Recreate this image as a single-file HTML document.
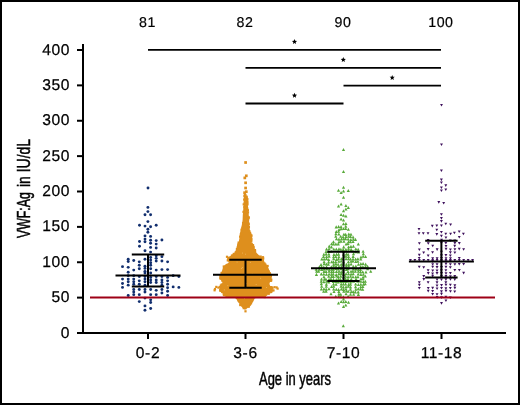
<!DOCTYPE html>
<html><head><meta charset="utf-8"><style>
html,body{margin:0;padding:0;background:#fff}
#c{position:relative;width:516px;height:401px;border:2px solid #000;overflow:hidden;background:#fff}
.t{position:absolute;font-family:"Liberation Sans",sans-serif;color:#000;white-space:nowrap;line-height:1;filter:grayscale(1)}
.n{font-size:15.6px;letter-spacing:0.6px;text-rendering:geometricPrecision;-webkit-text-stroke:0.25px #000}
.top{font-size:14.2px;letter-spacing:0.5px;text-rendering:geometricPrecision;-webkit-text-stroke:0.2px #000}
.ttl{font-size:18.5px;transform-origin:0 0;-webkit-text-stroke:0.5px #000}
svg{position:absolute;left:-2px;top:-2px}
</style></head><body><div id="c">
<svg width="520" height="405" viewBox="0 0 520 405">
<line x1="83" y1="44" x2="83" y2="334" stroke="#000" stroke-width="2"/>
<line x1="82" y1="333" x2="506" y2="333" stroke="#000" stroke-width="2"/>
<line x1="77" y1="333.00" x2="83" y2="333.00" stroke="#000" stroke-width="2"/>
<line x1="77" y1="297.62" x2="83" y2="297.62" stroke="#000" stroke-width="2"/>
<line x1="77" y1="262.25" x2="83" y2="262.25" stroke="#000" stroke-width="2"/>
<line x1="77" y1="226.88" x2="83" y2="226.88" stroke="#000" stroke-width="2"/>
<line x1="77" y1="191.50" x2="83" y2="191.50" stroke="#000" stroke-width="2"/>
<line x1="77" y1="156.12" x2="83" y2="156.12" stroke="#000" stroke-width="2"/>
<line x1="77" y1="120.75" x2="83" y2="120.75" stroke="#000" stroke-width="2"/>
<line x1="77" y1="85.38" x2="83" y2="85.38" stroke="#000" stroke-width="2"/>
<line x1="77" y1="50.00" x2="83" y2="50.00" stroke="#000" stroke-width="2"/>
<line x1="148" y1="333" x2="148" y2="339" stroke="#000" stroke-width="2"/>
<line x1="245.5" y1="333" x2="245.5" y2="339" stroke="#000" stroke-width="2"/>
<line x1="343.5" y1="333" x2="343.5" y2="339" stroke="#000" stroke-width="2"/>
<line x1="441.5" y1="333" x2="441.5" y2="339" stroke="#000" stroke-width="2"/>
<circle cx="148.00" cy="188.00" r="1.45" fill="#112e6e"/>
<circle cx="147.90" cy="207.40" r="1.45" fill="#112e6e"/>
<circle cx="147.90" cy="211.60" r="1.45" fill="#112e6e"/>
<circle cx="145.00" cy="214.80" r="1.45" fill="#112e6e"/>
<circle cx="150.60" cy="214.80" r="1.45" fill="#112e6e"/>
<circle cx="147.90" cy="221.60" r="1.45" fill="#112e6e"/>
<circle cx="139.50" cy="225.20" r="1.45" fill="#112e6e"/>
<circle cx="145.00" cy="226.10" r="1.45" fill="#112e6e"/>
<circle cx="150.60" cy="226.70" r="1.45" fill="#112e6e"/>
<circle cx="156.20" cy="225.20" r="1.45" fill="#112e6e"/>
<circle cx="147.90" cy="229.30" r="1.45" fill="#112e6e"/>
<circle cx="147.90" cy="232.30" r="1.45" fill="#112e6e"/>
<circle cx="145.00" cy="235.90" r="1.45" fill="#112e6e"/>
<circle cx="150.60" cy="236.40" r="1.45" fill="#112e6e"/>
<circle cx="145.00" cy="239.10" r="1.45" fill="#112e6e"/>
<circle cx="145.00" cy="241.80" r="1.45" fill="#112e6e"/>
<circle cx="139.50" cy="241.50" r="1.45" fill="#112e6e"/>
<circle cx="150.60" cy="240.30" r="1.45" fill="#112e6e"/>
<circle cx="150.60" cy="243.30" r="1.45" fill="#112e6e"/>
<circle cx="156.20" cy="240.60" r="1.45" fill="#112e6e"/>
<circle cx="156.20" cy="244.10" r="1.45" fill="#112e6e"/>
<circle cx="161.90" cy="240.00" r="1.45" fill="#112e6e"/>
<circle cx="139.50" cy="246.20" r="1.45" fill="#112e6e"/>
<circle cx="150.60" cy="247.40" r="1.45" fill="#112e6e"/>
<circle cx="156.20" cy="248.00" r="1.45" fill="#112e6e"/>
<circle cx="145.00" cy="250.70" r="1.45" fill="#112e6e"/>
<circle cx="150.60" cy="252.10" r="1.45" fill="#112e6e"/>
<circle cx="122.51" cy="266.67" r="1.45" fill="#112e6e"/>
<circle cx="122.51" cy="279.11" r="1.45" fill="#112e6e"/>
<circle cx="122.51" cy="283.43" r="1.45" fill="#112e6e"/>
<circle cx="122.51" cy="287.41" r="1.45" fill="#112e6e"/>
<circle cx="128.21" cy="259.23" r="1.45" fill="#112e6e"/>
<circle cx="128.21" cy="261.48" r="1.45" fill="#112e6e"/>
<circle cx="128.21" cy="267.36" r="1.45" fill="#112e6e"/>
<circle cx="128.21" cy="272.20" r="1.45" fill="#112e6e"/>
<circle cx="128.21" cy="275.65" r="1.45" fill="#112e6e"/>
<circle cx="128.21" cy="279.11" r="1.45" fill="#112e6e"/>
<circle cx="128.21" cy="281.70" r="1.45" fill="#112e6e"/>
<circle cx="128.21" cy="285.16" r="1.45" fill="#112e6e"/>
<circle cx="128.21" cy="295.53" r="1.45" fill="#112e6e"/>
<circle cx="133.74" cy="260.44" r="1.45" fill="#112e6e"/>
<circle cx="133.74" cy="270.12" r="1.45" fill="#112e6e"/>
<circle cx="133.74" cy="275.65" r="1.45" fill="#112e6e"/>
<circle cx="133.74" cy="279.11" r="1.45" fill="#112e6e"/>
<circle cx="133.74" cy="281.70" r="1.45" fill="#112e6e"/>
<circle cx="133.74" cy="284.29" r="1.45" fill="#112e6e"/>
<circle cx="133.74" cy="289.48" r="1.45" fill="#112e6e"/>
<circle cx="133.74" cy="292.07" r="1.45" fill="#112e6e"/>
<circle cx="133.74" cy="294.66" r="1.45" fill="#112e6e"/>
<circle cx="139.27" cy="261.83" r="1.45" fill="#112e6e"/>
<circle cx="139.27" cy="265.28" r="1.45" fill="#112e6e"/>
<circle cx="139.27" cy="268.74" r="1.45" fill="#112e6e"/>
<circle cx="139.27" cy="276.52" r="1.45" fill="#112e6e"/>
<circle cx="139.27" cy="280.84" r="1.45" fill="#112e6e"/>
<circle cx="139.27" cy="284.29" r="1.45" fill="#112e6e"/>
<circle cx="139.27" cy="289.48" r="1.45" fill="#112e6e"/>
<circle cx="139.27" cy="294.66" r="1.45" fill="#112e6e"/>
<circle cx="139.27" cy="301.58" r="1.45" fill="#112e6e"/>
<circle cx="144.97" cy="259.23" r="1.45" fill="#112e6e"/>
<circle cx="144.97" cy="266.15" r="1.45" fill="#112e6e"/>
<circle cx="144.97" cy="268.39" r="1.45" fill="#112e6e"/>
<circle cx="144.97" cy="271.33" r="1.45" fill="#112e6e"/>
<circle cx="144.97" cy="273.06" r="1.45" fill="#112e6e"/>
<circle cx="144.97" cy="276.52" r="1.45" fill="#112e6e"/>
<circle cx="144.97" cy="279.11" r="1.45" fill="#112e6e"/>
<circle cx="144.97" cy="281.70" r="1.45" fill="#112e6e"/>
<circle cx="144.97" cy="285.16" r="1.45" fill="#112e6e"/>
<circle cx="144.97" cy="289.48" r="1.45" fill="#112e6e"/>
<circle cx="144.97" cy="292.07" r="1.45" fill="#112e6e"/>
<circle cx="144.97" cy="298.12" r="1.45" fill="#112e6e"/>
<circle cx="144.97" cy="305.90" r="1.45" fill="#112e6e"/>
<circle cx="144.97" cy="310.22" r="1.45" fill="#112e6e"/>
<circle cx="150.68" cy="257.51" r="1.45" fill="#112e6e"/>
<circle cx="150.68" cy="260.10" r="1.45" fill="#112e6e"/>
<circle cx="150.68" cy="262.69" r="1.45" fill="#112e6e"/>
<circle cx="150.68" cy="265.28" r="1.45" fill="#112e6e"/>
<circle cx="150.68" cy="268.74" r="1.45" fill="#112e6e"/>
<circle cx="150.68" cy="273.06" r="1.45" fill="#112e6e"/>
<circle cx="150.68" cy="277.38" r="1.45" fill="#112e6e"/>
<circle cx="150.68" cy="279.97" r="1.45" fill="#112e6e"/>
<circle cx="150.68" cy="282.57" r="1.45" fill="#112e6e"/>
<circle cx="150.68" cy="289.48" r="1.45" fill="#112e6e"/>
<circle cx="150.68" cy="294.66" r="1.45" fill="#112e6e"/>
<circle cx="150.68" cy="299.85" r="1.45" fill="#112e6e"/>
<circle cx="150.68" cy="302.44" r="1.45" fill="#112e6e"/>
<circle cx="150.68" cy="308.49" r="1.45" fill="#112e6e"/>
<circle cx="156.21" cy="255.78" r="1.45" fill="#112e6e"/>
<circle cx="156.21" cy="258.37" r="1.45" fill="#112e6e"/>
<circle cx="156.21" cy="260.96" r="1.45" fill="#112e6e"/>
<circle cx="156.21" cy="270.12" r="1.45" fill="#112e6e"/>
<circle cx="156.21" cy="276.52" r="1.45" fill="#112e6e"/>
<circle cx="156.21" cy="279.97" r="1.45" fill="#112e6e"/>
<circle cx="156.21" cy="282.57" r="1.45" fill="#112e6e"/>
<circle cx="156.21" cy="290.34" r="1.45" fill="#112e6e"/>
<circle cx="156.21" cy="294.66" r="1.45" fill="#112e6e"/>
<circle cx="161.91" cy="256.64" r="1.45" fill="#112e6e"/>
<circle cx="161.91" cy="260.96" r="1.45" fill="#112e6e"/>
<circle cx="161.91" cy="269.60" r="1.45" fill="#112e6e"/>
<circle cx="161.91" cy="276.52" r="1.45" fill="#112e6e"/>
<circle cx="161.91" cy="279.97" r="1.45" fill="#112e6e"/>
<circle cx="161.91" cy="282.57" r="1.45" fill="#112e6e"/>
<circle cx="161.91" cy="285.16" r="1.45" fill="#112e6e"/>
<circle cx="161.91" cy="289.48" r="1.45" fill="#112e6e"/>
<circle cx="161.91" cy="292.94" r="1.45" fill="#112e6e"/>
<circle cx="167.61" cy="261.83" r="1.45" fill="#112e6e"/>
<circle cx="167.61" cy="269.60" r="1.45" fill="#112e6e"/>
<circle cx="167.61" cy="277.38" r="1.45" fill="#112e6e"/>
<circle cx="167.61" cy="280.84" r="1.45" fill="#112e6e"/>
<circle cx="167.61" cy="284.29" r="1.45" fill="#112e6e"/>
<circle cx="167.61" cy="287.75" r="1.45" fill="#112e6e"/>
<circle cx="167.61" cy="291.21" r="1.45" fill="#112e6e"/>
<circle cx="167.61" cy="295.53" r="1.45" fill="#112e6e"/>
<circle cx="173.15" cy="275.65" r="1.45" fill="#112e6e"/>
<circle cx="173.15" cy="286.89" r="1.45" fill="#112e6e"/>
<circle cx="178.85" cy="276.52" r="1.45" fill="#112e6e"/>
<circle cx="178.85" cy="287.41" r="1.45" fill="#112e6e"/>
<polygon points="243.8,196.0 244.0,200.0 243.6,205.0 243.2,210.0 242.8,215.0 242.6,220.0 242.0,224.0 241.6,226.0 240.9,230.4 239.6,234.0 240.0,236.7 239.2,239.3 238.7,242.0 237.4,245.6 236.3,249.1 234.6,252.7 231.5,255.3 228.6,257.1 226.8,259.1 228.0,261.3 229.3,262.8 226.0,263.9 224.4,265.5 223.0,267.3 222.2,270.2 220.8,273.9 219.6,276.0 219.4,279.5 221.8,280.3 222.4,283.0 221.0,284.8 219.5,286.5 219.6,289.5 219.6,291.4 222.4,292.2 223.6,295.8 226.0,297.0 236.2,298.2 237.5,301.5 239.4,303.8 241.0,306.2 243.2,308.5 244.5,309.6 246.2,309.6 246.8,308.5 250.2,306.2 251.7,303.8 253.3,301.5 254.8,298.2 264.5,297.0 267.2,295.6 268.3,293.8 272.3,293.0 272.6,289.6 272.5,286.8 269.4,285.5 269.6,282.2 271.8,281.3 271.4,274.7 269.2,270.0 267.8,266.3 265.0,263.5 264.0,260.6 262.8,257.4 259.0,255.3 256.4,252.7 254.5,249.1 253.3,245.6 251.5,242.0 251.9,239.3 252.4,236.7 251.1,234.0 249.7,230.4 249.0,226.0 249.3,224.0 249.0,220.0 248.8,215.0 248.3,210.0 247.9,205.0 247.6,200.0 247.6,196.0" fill="#de8f1d"/>
<rect x="243.35" y="194.77" width="2.2" height="2.2" fill="#de8f1d"/>
<rect x="245.32" y="196.84" width="2.2" height="2.2" fill="#de8f1d"/>
<rect x="243.14" y="198.60" width="2.2" height="2.2" fill="#de8f1d"/>
<rect x="246.30" y="198.08" width="2.2" height="2.2" fill="#de8f1d"/>
<rect x="246.11" y="200.07" width="2.2" height="2.2" fill="#de8f1d"/>
<rect x="243.60" y="201.47" width="2.2" height="2.2" fill="#de8f1d"/>
<rect x="246.35" y="201.39" width="2.2" height="2.2" fill="#de8f1d"/>
<rect x="242.62" y="203.27" width="2.2" height="2.2" fill="#de8f1d"/>
<rect x="246.40" y="203.28" width="2.2" height="2.2" fill="#de8f1d"/>
<rect x="243.29" y="206.04" width="2.2" height="2.2" fill="#de8f1d"/>
<rect x="246.07" y="207.42" width="2.2" height="2.2" fill="#de8f1d"/>
<rect x="246.79" y="209.10" width="2.2" height="2.2" fill="#de8f1d"/>
<rect x="242.40" y="210.75" width="2.2" height="2.2" fill="#de8f1d"/>
<rect x="246.90" y="211.30" width="2.2" height="2.2" fill="#de8f1d"/>
<rect x="247.60" y="216.16" width="2.2" height="2.2" fill="#de8f1d"/>
<rect x="247.49" y="217.01" width="2.2" height="2.2" fill="#de8f1d"/>
<rect x="247.04" y="218.46" width="2.2" height="2.2" fill="#de8f1d"/>
<rect x="241.98" y="222.01" width="2.2" height="2.2" fill="#de8f1d"/>
<rect x="247.29" y="222.37" width="2.2" height="2.2" fill="#de8f1d"/>
<rect x="247.62" y="223.24" width="2.2" height="2.2" fill="#de8f1d"/>
<rect x="247.82" y="225.78" width="2.2" height="2.2" fill="#de8f1d"/>
<rect x="241.38" y="226.71" width="2.2" height="2.2" fill="#de8f1d"/>
<rect x="247.74" y="226.43" width="2.2" height="2.2" fill="#de8f1d"/>
<rect x="240.42" y="228.61" width="2.2" height="2.2" fill="#de8f1d"/>
<rect x="247.32" y="228.87" width="2.2" height="2.2" fill="#de8f1d"/>
<rect x="240.66" y="230.50" width="2.2" height="2.2" fill="#de8f1d"/>
<rect x="248.26" y="230.12" width="2.2" height="2.2" fill="#de8f1d"/>
<rect x="249.00" y="231.82" width="2.2" height="2.2" fill="#de8f1d"/>
<rect x="249.51" y="233.52" width="2.2" height="2.2" fill="#de8f1d"/>
<rect x="239.16" y="235.38" width="2.2" height="2.2" fill="#de8f1d"/>
<rect x="250.42" y="234.41" width="2.2" height="2.2" fill="#de8f1d"/>
<rect x="239.32" y="236.02" width="2.2" height="2.2" fill="#de8f1d"/>
<rect x="250.37" y="238.07" width="2.2" height="2.2" fill="#de8f1d"/>
<rect x="250.23" y="239.94" width="2.2" height="2.2" fill="#de8f1d"/>
<rect x="237.53" y="241.48" width="2.2" height="2.2" fill="#de8f1d"/>
<rect x="237.43" y="242.99" width="2.2" height="2.2" fill="#de8f1d"/>
<rect x="250.64" y="242.71" width="2.2" height="2.2" fill="#de8f1d"/>
<rect x="237.01" y="244.30" width="2.2" height="2.2" fill="#de8f1d"/>
<rect x="251.93" y="244.03" width="2.2" height="2.2" fill="#de8f1d"/>
<rect x="236.68" y="245.91" width="2.2" height="2.2" fill="#de8f1d"/>
<rect x="252.51" y="245.84" width="2.2" height="2.2" fill="#de8f1d"/>
<rect x="235.82" y="247.90" width="2.2" height="2.2" fill="#de8f1d"/>
<rect x="252.48" y="247.53" width="2.2" height="2.2" fill="#de8f1d"/>
<rect x="253.91" y="248.97" width="2.2" height="2.2" fill="#de8f1d"/>
<rect x="234.61" y="251.28" width="2.2" height="2.2" fill="#de8f1d"/>
<rect x="254.00" y="250.52" width="2.2" height="2.2" fill="#de8f1d"/>
<rect x="232.66" y="252.81" width="2.2" height="2.2" fill="#de8f1d"/>
<rect x="230.85" y="254.41" width="2.2" height="2.2" fill="#de8f1d"/>
<rect x="259.57" y="255.49" width="2.2" height="2.2" fill="#de8f1d"/>
<rect x="261.29" y="257.22" width="2.2" height="2.2" fill="#de8f1d"/>
<rect x="226.68" y="259.32" width="2.2" height="2.2" fill="#de8f1d"/>
<rect x="261.48" y="259.34" width="2.2" height="2.2" fill="#de8f1d"/>
<rect x="228.14" y="262.53" width="2.2" height="2.2" fill="#de8f1d"/>
<rect x="263.49" y="262.44" width="2.2" height="2.2" fill="#de8f1d"/>
<rect x="264.35" y="263.54" width="2.2" height="2.2" fill="#de8f1d"/>
<rect x="222.68" y="265.39" width="2.2" height="2.2" fill="#de8f1d"/>
<rect x="266.51" y="264.85" width="2.2" height="2.2" fill="#de8f1d"/>
<rect x="267.48" y="270.35" width="2.2" height="2.2" fill="#de8f1d"/>
<rect x="220.48" y="271.86" width="2.2" height="2.2" fill="#de8f1d"/>
<rect x="268.71" y="272.14" width="2.2" height="2.2" fill="#de8f1d"/>
<rect x="269.26" y="273.66" width="2.2" height="2.2" fill="#de8f1d"/>
<rect x="219.44" y="274.75" width="2.2" height="2.2" fill="#de8f1d"/>
<rect x="269.82" y="275.22" width="2.2" height="2.2" fill="#de8f1d"/>
<rect x="219.36" y="276.92" width="2.2" height="2.2" fill="#de8f1d"/>
<rect x="270.13" y="278.46" width="2.2" height="2.2" fill="#de8f1d"/>
<rect x="221.14" y="279.47" width="2.2" height="2.2" fill="#de8f1d"/>
<rect x="269.98" y="279.67" width="2.2" height="2.2" fill="#de8f1d"/>
<rect x="267.35" y="280.93" width="2.2" height="2.2" fill="#de8f1d"/>
<rect x="220.60" y="283.37" width="2.2" height="2.2" fill="#de8f1d"/>
<rect x="219.80" y="284.32" width="2.2" height="2.2" fill="#de8f1d"/>
<rect x="267.76" y="284.65" width="2.2" height="2.2" fill="#de8f1d"/>
<rect x="218.86" y="285.79" width="2.2" height="2.2" fill="#de8f1d"/>
<rect x="270.36" y="286.16" width="2.2" height="2.2" fill="#de8f1d"/>
<rect x="270.37" y="287.38" width="2.2" height="2.2" fill="#de8f1d"/>
<rect x="219.23" y="289.58" width="2.2" height="2.2" fill="#de8f1d"/>
<rect x="271.19" y="289.42" width="2.2" height="2.2" fill="#de8f1d"/>
<rect x="221.05" y="290.90" width="2.2" height="2.2" fill="#de8f1d"/>
<rect x="222.60" y="292.46" width="2.2" height="2.2" fill="#de8f1d"/>
<rect x="267.64" y="292.70" width="2.2" height="2.2" fill="#de8f1d"/>
<rect x="222.81" y="294.03" width="2.2" height="2.2" fill="#de8f1d"/>
<rect x="263.66" y="295.99" width="2.2" height="2.2" fill="#de8f1d"/>
<rect x="235.74" y="296.92" width="2.2" height="2.2" fill="#de8f1d"/>
<rect x="249.94" y="302.19" width="2.2" height="2.2" fill="#de8f1d"/>
<rect x="239.14" y="303.97" width="2.2" height="2.2" fill="#de8f1d"/>
<rect x="248.89" y="303.30" width="2.2" height="2.2" fill="#de8f1d"/>
<rect x="247.63" y="305.64" width="2.2" height="2.2" fill="#de8f1d"/>
<rect x="242.63" y="307.07" width="2.2" height="2.2" fill="#de8f1d"/>
<rect x="244.25" y="161.15" width="2.7" height="2.7" fill="#de8f1d"/>
<rect x="244.95" y="174.45" width="2.7" height="2.7" fill="#de8f1d"/>
<rect x="243.45" y="176.55" width="2.7" height="2.7" fill="#de8f1d"/>
<rect x="244.25" y="181.45" width="2.7" height="2.7" fill="#de8f1d"/>
<rect x="244.25" y="186.65" width="2.7" height="2.7" fill="#de8f1d"/>
<rect x="244.95" y="190.35" width="2.7" height="2.7" fill="#de8f1d"/>
<rect x="243.25" y="191.35" width="2.7" height="2.7" fill="#de8f1d"/>
<rect x="243.85" y="193.85" width="2.7" height="2.7" fill="#de8f1d"/>
<rect x="244.85" y="195.45" width="2.7" height="2.7" fill="#de8f1d"/>
<rect x="243.65" y="197.55" width="2.7" height="2.7" fill="#de8f1d"/>
<rect x="246.74" y="297.22" width="0.8" height="0.8" fill="#f0c070"/>
<rect x="223.90" y="289.54" width="0.8" height="0.8" fill="#f0c070"/>
<rect x="246.19" y="287.97" width="0.8" height="0.8" fill="#f0c070"/>
<rect x="227.44" y="285.36" width="0.8" height="0.8" fill="#f0c070"/>
<rect x="266.05" y="287.05" width="0.8" height="0.8" fill="#f0c070"/>
<rect x="242.15" y="252.66" width="0.8" height="0.8" fill="#f0c070"/>
<rect x="260.28" y="277.80" width="0.8" height="0.8" fill="#f0c070"/>
<rect x="236.66" y="261.71" width="0.8" height="0.8" fill="#f0c070"/>
<rect x="249.88" y="262.10" width="0.8" height="0.8" fill="#f0c070"/>
<rect x="240.64" y="287.28" width="0.8" height="0.8" fill="#f0c070"/>
<rect x="241.12" y="267.97" width="0.8" height="0.8" fill="#f0c070"/>
<rect x="241.98" y="267.11" width="0.8" height="0.8" fill="#f0c070"/>
<rect x="244.97" y="253.76" width="0.8" height="0.8" fill="#f0c070"/>
<rect x="244.02" y="298.25" width="0.8" height="0.8" fill="#f0c070"/>
<rect x="229.68" y="286.97" width="0.8" height="0.8" fill="#f0c070"/>
<rect x="255.75" y="284.14" width="0.8" height="0.8" fill="#f0c070"/>
<rect x="246.00" y="283.29" width="0.8" height="0.8" fill="#f0c070"/>
<rect x="251.86" y="273.79" width="0.8" height="0.8" fill="#f0c070"/>
<rect x="213.90" y="287.90" width="2.2" height="2.2" fill="#de8f1d"/>
<rect x="215.20" y="285.80" width="2.2" height="2.2" fill="#de8f1d"/>
<rect x="217.30" y="286.50" width="2.2" height="2.2" fill="#de8f1d"/>
<rect x="219.10" y="288.50" width="2.2" height="2.2" fill="#de8f1d"/>
<rect x="220.50" y="289.20" width="2.2" height="2.2" fill="#de8f1d"/>
<rect x="213.50" y="289.20" width="2.2" height="2.2" fill="#de8f1d"/>
<rect x="269.40" y="286.40" width="2.2" height="2.2" fill="#de8f1d"/>
<rect x="271.40" y="286.70" width="2.2" height="2.2" fill="#de8f1d"/>
<rect x="273.50" y="286.10" width="2.2" height="2.2" fill="#de8f1d"/>
<rect x="275.50" y="286.30" width="2.2" height="2.2" fill="#de8f1d"/>
<rect x="276.50" y="287.50" width="2.2" height="2.2" fill="#de8f1d"/>
<rect x="272.40" y="289.30" width="2.2" height="2.2" fill="#de8f1d"/>
<rect x="269.90" y="290.40" width="2.2" height="2.2" fill="#de8f1d"/>
<rect x="225.90" y="255.70" width="2.2" height="2.2" fill="#de8f1d"/>
<rect x="227.40" y="256.70" width="2.2" height="2.2" fill="#de8f1d"/>
<rect x="261.90" y="256.10" width="2.2" height="2.2" fill="#de8f1d"/>
<rect x="262.10" y="257.40" width="2.2" height="2.2" fill="#de8f1d"/>
<rect x="244.40" y="310.20" width="2.2" height="2.2" fill="#de8f1d"/>
<path d="M343.50 148.08L345.10 151.12L341.90 151.12Z" fill="#58aa3a"/>
<path d="M343.50 169.88L345.10 172.92L341.90 172.92Z" fill="#58aa3a"/>
<path d="M343.50 185.68L345.10 188.72L341.90 188.72Z" fill="#58aa3a"/>
<path d="M338.50 188.68L340.10 191.72L336.90 191.72Z" fill="#58aa3a"/>
<path d="M343.50 189.58L345.10 192.62L341.90 192.62Z" fill="#58aa3a"/>
<path d="M341.10 190.98L342.70 194.02L339.50 194.02Z" fill="#58aa3a"/>
<path d="M348.30 189.08L349.90 192.12L346.70 192.12Z" fill="#58aa3a"/>
<path d="M343.50 195.78L345.10 198.82L341.90 198.82Z" fill="#58aa3a"/>
<path d="M338.50 204.58L340.10 207.62L336.90 207.62Z" fill="#58aa3a"/>
<path d="M341.10 202.58L342.70 205.62L339.50 205.62Z" fill="#58aa3a"/>
<path d="M345.90 204.08L347.50 207.12L344.30 207.12Z" fill="#58aa3a"/>
<path d="M348.30 205.98L349.90 209.02L346.70 209.02Z" fill="#58aa3a"/>
<path d="M343.50 209.28L345.10 212.32L341.90 212.32Z" fill="#58aa3a"/>
<path d="M345.90 207.48L347.50 210.52L344.30 210.52Z" fill="#58aa3a"/>
<path d="M341.10 212.98L342.70 216.02L339.50 216.02Z" fill="#58aa3a"/>
<path d="M343.50 213.68L345.10 216.72L341.90 216.72Z" fill="#58aa3a"/>
<path d="M345.90 214.48L347.50 217.52L344.30 217.52Z" fill="#58aa3a"/>
<path d="M341.10 217.38L342.70 220.42L339.50 220.42Z" fill="#58aa3a"/>
<path d="M343.50 218.48L345.10 221.52L341.90 221.52Z" fill="#58aa3a"/>
<path d="M343.50 222.28L345.10 225.32L341.90 225.32Z" fill="#58aa3a"/>
<path d="M345.90 221.88L347.50 224.92L344.30 224.92Z" fill="#58aa3a"/>
<path d="M343.30 324.18L344.90 327.22L341.70 327.22Z" fill="#58aa3a"/>
<path d="M338.50 301.48L340.10 304.52L336.90 304.52Z" fill="#58aa3a"/>
<path d="M341.20 299.88L342.80 302.92L339.60 302.92Z" fill="#58aa3a"/>
<path d="M343.50 300.28L345.10 303.32L341.90 303.32Z" fill="#58aa3a"/>
<path d="M345.80 299.88L347.40 302.92L344.20 302.92Z" fill="#58aa3a"/>
<path d="M348.50 300.78L350.10 303.82L346.90 303.82Z" fill="#58aa3a"/>
<path d="M343.50 297.58L345.10 300.62L341.90 300.62Z" fill="#58aa3a"/>
<path d="M343.50 304.88L345.10 307.92L341.90 307.92Z" fill="#58aa3a"/>
<path d="M345.80 303.58L347.40 306.62L344.20 306.62Z" fill="#58aa3a"/>
<path d="M336.20 225.36L337.80 228.40L334.60 228.40Z" fill="#58aa3a"/>
<path d="M338.61 225.06L340.21 228.10L337.01 228.10Z" fill="#58aa3a"/>
<path d="M341.06 225.10L342.66 228.14L339.46 228.14Z" fill="#58aa3a"/>
<path d="M345.77 224.61L347.37 227.65L344.17 227.65Z" fill="#58aa3a"/>
<path d="M339.03 227.90L340.63 230.94L337.43 230.94Z" fill="#58aa3a"/>
<path d="M341.15 227.17L342.75 230.21L339.55 230.21Z" fill="#58aa3a"/>
<path d="M343.53 227.08L345.13 230.12L341.93 230.12Z" fill="#58aa3a"/>
<path d="M345.72 227.06L347.32 230.10L344.12 230.10Z" fill="#58aa3a"/>
<path d="M348.35 227.79L349.95 230.83L346.75 230.83Z" fill="#58aa3a"/>
<path d="M336.28 229.98L337.88 233.02L334.68 233.02Z" fill="#58aa3a"/>
<path d="M338.56 229.78L340.16 232.82L336.96 232.82Z" fill="#58aa3a"/>
<path d="M335.91 232.29L337.51 235.33L334.31 235.33Z" fill="#58aa3a"/>
<path d="M338.84 232.39L340.44 235.43L337.24 235.43Z" fill="#58aa3a"/>
<path d="M343.91 232.79L345.51 235.83L342.31 235.83Z" fill="#58aa3a"/>
<path d="M345.69 232.85L347.29 235.89L344.09 235.89Z" fill="#58aa3a"/>
<path d="M348.83 232.39L350.43 235.43L347.23 235.43Z" fill="#58aa3a"/>
<path d="M350.97 232.73L352.57 235.77L349.37 235.77Z" fill="#58aa3a"/>
<path d="M335.78 234.83L337.38 237.87L334.18 237.87Z" fill="#58aa3a"/>
<path d="M340.71 234.75L342.31 237.79L339.11 237.79Z" fill="#58aa3a"/>
<path d="M343.10 235.25L344.70 238.29L341.50 238.29Z" fill="#58aa3a"/>
<path d="M346.00 234.93L347.60 237.97L344.40 237.97Z" fill="#58aa3a"/>
<path d="M348.61 234.65L350.21 237.69L347.01 237.69Z" fill="#58aa3a"/>
<path d="M350.50 234.91L352.10 237.95L348.90 237.95Z" fill="#58aa3a"/>
<path d="M353.09 235.40L354.69 238.44L351.49 238.44Z" fill="#58aa3a"/>
<path d="M336.50 237.22L338.10 240.26L334.90 240.26Z" fill="#58aa3a"/>
<path d="M338.92 237.61L340.52 240.65L337.32 240.65Z" fill="#58aa3a"/>
<path d="M341.49 237.22L343.09 240.26L339.89 240.26Z" fill="#58aa3a"/>
<path d="M343.75 237.33L345.35 240.37L342.15 240.37Z" fill="#58aa3a"/>
<path d="M345.57 237.11L347.17 240.15L343.97 240.15Z" fill="#58aa3a"/>
<path d="M348.17 237.57L349.77 240.61L346.57 240.61Z" fill="#58aa3a"/>
<path d="M350.81 237.89L352.41 240.93L349.21 240.93Z" fill="#58aa3a"/>
<path d="M353.37 237.81L354.97 240.85L351.77 240.85Z" fill="#58aa3a"/>
<path d="M355.44 237.85L357.04 240.89L353.84 240.89Z" fill="#58aa3a"/>
<path d="M333.42 240.20L335.02 243.24L331.82 243.24Z" fill="#58aa3a"/>
<path d="M339.01 240.32L340.61 243.36L337.41 243.36Z" fill="#58aa3a"/>
<path d="M340.98 239.62L342.58 242.66L339.38 242.66Z" fill="#58aa3a"/>
<path d="M343.92 239.74L345.52 242.78L342.32 242.78Z" fill="#58aa3a"/>
<path d="M348.69 240.07L350.29 243.11L347.09 243.11Z" fill="#58aa3a"/>
<path d="M350.56 240.18L352.16 243.22L348.96 243.22Z" fill="#58aa3a"/>
<path d="M353.06 240.03L354.66 243.07L351.46 243.07Z" fill="#58aa3a"/>
<path d="M331.63 242.21L333.23 245.25L330.03 245.25Z" fill="#58aa3a"/>
<path d="M333.49 242.43L335.09 245.47L331.89 245.47Z" fill="#58aa3a"/>
<path d="M335.86 242.36L337.46 245.40L334.26 245.40Z" fill="#58aa3a"/>
<path d="M338.27 242.36L339.87 245.40L336.67 245.40Z" fill="#58aa3a"/>
<path d="M346.12 242.56L347.72 245.60L344.52 245.60Z" fill="#58aa3a"/>
<path d="M347.98 242.05L349.58 245.09L346.38 245.09Z" fill="#58aa3a"/>
<path d="M358.32 242.46L359.92 245.50L356.72 245.50Z" fill="#58aa3a"/>
<path d="M329.25 244.60L330.85 247.64L327.65 247.64Z" fill="#58aa3a"/>
<path d="M331.46 245.34L333.06 248.38L329.86 248.38Z" fill="#58aa3a"/>
<path d="M343.67 245.34L345.27 248.38L342.07 248.38Z" fill="#58aa3a"/>
<path d="M348.66 245.31L350.26 248.35L347.06 248.35Z" fill="#58aa3a"/>
<path d="M350.96 244.87L352.56 247.91L349.36 247.91Z" fill="#58aa3a"/>
<path d="M353.40 244.60L355.00 247.64L351.80 247.64Z" fill="#58aa3a"/>
<path d="M326.56 247.55L328.16 250.59L324.96 250.59Z" fill="#58aa3a"/>
<path d="M329.10 247.11L330.70 250.15L327.50 250.15Z" fill="#58aa3a"/>
<path d="M333.79 247.46L335.39 250.50L332.19 250.50Z" fill="#58aa3a"/>
<path d="M336.33 247.48L337.93 250.52L334.73 250.52Z" fill="#58aa3a"/>
<path d="M338.98 247.26L340.58 250.30L337.38 250.30Z" fill="#58aa3a"/>
<path d="M340.87 247.64L342.47 250.68L339.27 250.68Z" fill="#58aa3a"/>
<path d="M343.20 247.85L344.80 250.89L341.60 250.89Z" fill="#58aa3a"/>
<path d="M345.90 247.83L347.50 250.87L344.30 250.87Z" fill="#58aa3a"/>
<path d="M348.55 247.21L350.15 250.25L346.95 250.25Z" fill="#58aa3a"/>
<path d="M351.13 247.85L352.73 250.89L349.53 250.89Z" fill="#58aa3a"/>
<path d="M355.82 247.31L357.42 250.35L354.22 250.35Z" fill="#58aa3a"/>
<path d="M358.20 247.78L359.80 250.82L356.60 250.82Z" fill="#58aa3a"/>
<path d="M326.05 249.94L327.65 252.98L324.45 252.98Z" fill="#58aa3a"/>
<path d="M328.54 249.90L330.14 252.94L326.94 252.94Z" fill="#58aa3a"/>
<path d="M331.24 249.81L332.84 252.85L329.64 252.85Z" fill="#58aa3a"/>
<path d="M338.22 249.56L339.82 252.60L336.62 252.60Z" fill="#58aa3a"/>
<path d="M343.69 250.04L345.29 253.08L342.09 253.08Z" fill="#58aa3a"/>
<path d="M346.21 249.55L347.81 252.59L344.61 252.59Z" fill="#58aa3a"/>
<path d="M348.36 249.55L349.96 252.59L346.76 252.59Z" fill="#58aa3a"/>
<path d="M352.98 249.57L354.58 252.61L351.38 252.61Z" fill="#58aa3a"/>
<path d="M355.70 250.10L357.30 253.14L354.10 253.14Z" fill="#58aa3a"/>
<path d="M358.48 250.39L360.08 253.43L356.88 253.43Z" fill="#58aa3a"/>
<path d="M363.08 249.69L364.68 252.73L361.48 252.73Z" fill="#58aa3a"/>
<path d="M323.87 252.67L325.47 255.71L322.27 255.71Z" fill="#58aa3a"/>
<path d="M326.15 252.34L327.75 255.38L324.55 255.38Z" fill="#58aa3a"/>
<path d="M328.82 252.58L330.42 255.62L327.22 255.62Z" fill="#58aa3a"/>
<path d="M333.96 252.85L335.56 255.89L332.36 255.89Z" fill="#58aa3a"/>
<path d="M336.54 252.68L338.14 255.72L334.94 255.72Z" fill="#58aa3a"/>
<path d="M338.56 252.59L340.16 255.63L336.96 255.63Z" fill="#58aa3a"/>
<path d="M343.56 252.82L345.16 255.86L341.96 255.86Z" fill="#58aa3a"/>
<path d="M346.35 252.45L347.95 255.49L344.75 255.49Z" fill="#58aa3a"/>
<path d="M348.13 252.68L349.73 255.72L346.53 255.72Z" fill="#58aa3a"/>
<path d="M353.50 252.22L355.10 255.26L351.90 255.26Z" fill="#58aa3a"/>
<path d="M363.36 252.32L364.96 255.36L361.76 255.36Z" fill="#58aa3a"/>
<path d="M323.52 254.93L325.12 257.97L321.92 257.97Z" fill="#58aa3a"/>
<path d="M326.59 254.97L328.19 258.01L324.99 258.01Z" fill="#58aa3a"/>
<path d="M329.08 254.59L330.68 257.63L327.48 257.63Z" fill="#58aa3a"/>
<path d="M333.55 255.24L335.15 258.28L331.95 258.28Z" fill="#58aa3a"/>
<path d="M335.83 254.99L337.43 258.03L334.23 258.03Z" fill="#58aa3a"/>
<path d="M338.91 255.15L340.51 258.19L337.31 258.19Z" fill="#58aa3a"/>
<path d="M343.90 254.61L345.50 257.65L342.30 257.65Z" fill="#58aa3a"/>
<path d="M345.97 254.79L347.57 257.83L344.37 257.83Z" fill="#58aa3a"/>
<path d="M348.52 255.00L350.12 258.04L346.92 258.04Z" fill="#58aa3a"/>
<path d="M353.13 254.87L354.73 257.91L351.53 257.91Z" fill="#58aa3a"/>
<path d="M360.97 255.40L362.57 258.44L359.37 258.44Z" fill="#58aa3a"/>
<path d="M363.17 254.71L364.77 257.75L361.57 257.75Z" fill="#58aa3a"/>
<path d="M365.55 255.07L367.15 258.11L363.95 258.11Z" fill="#58aa3a"/>
<path d="M321.87 257.49L323.47 260.53L320.27 260.53Z" fill="#58aa3a"/>
<path d="M324.17 257.54L325.77 260.58L322.57 260.58Z" fill="#58aa3a"/>
<path d="M326.52 257.09L328.12 260.13L324.92 260.13Z" fill="#58aa3a"/>
<path d="M328.72 257.89L330.32 260.93L327.12 260.93Z" fill="#58aa3a"/>
<path d="M333.68 257.14L335.28 260.18L332.08 260.18Z" fill="#58aa3a"/>
<path d="M336.43 257.84L338.03 260.88L334.83 260.88Z" fill="#58aa3a"/>
<path d="M338.44 257.20L340.04 260.24L336.84 260.24Z" fill="#58aa3a"/>
<path d="M341.43 257.15L343.03 260.19L339.83 260.19Z" fill="#58aa3a"/>
<path d="M343.07 257.20L344.67 260.24L341.47 260.24Z" fill="#58aa3a"/>
<path d="M346.12 257.32L347.72 260.36L344.52 260.36Z" fill="#58aa3a"/>
<path d="M348.51 257.12L350.11 260.16L346.91 260.16Z" fill="#58aa3a"/>
<path d="M350.51 257.49L352.11 260.53L348.91 260.53Z" fill="#58aa3a"/>
<path d="M353.03 257.51L354.63 260.55L351.43 260.55Z" fill="#58aa3a"/>
<path d="M355.64 257.40L357.24 260.44L354.04 260.44Z" fill="#58aa3a"/>
<path d="M357.89 257.21L359.49 260.25L356.29 260.25Z" fill="#58aa3a"/>
<path d="M360.77 257.51L362.37 260.55L359.17 260.55Z" fill="#58aa3a"/>
<path d="M324.12 260.26L325.72 263.30L322.52 263.30Z" fill="#58aa3a"/>
<path d="M328.63 260.36L330.23 263.40L327.03 263.40Z" fill="#58aa3a"/>
<path d="M331.70 260.33L333.30 263.37L330.10 263.37Z" fill="#58aa3a"/>
<path d="M333.47 260.18L335.07 263.22L331.87 263.22Z" fill="#58aa3a"/>
<path d="M335.79 260.28L337.39 263.32L334.19 263.32Z" fill="#58aa3a"/>
<path d="M338.86 259.64L340.46 262.68L337.26 262.68Z" fill="#58aa3a"/>
<path d="M341.22 259.55L342.82 262.59L339.62 262.59Z" fill="#58aa3a"/>
<path d="M343.66 260.35L345.26 263.39L342.06 263.39Z" fill="#58aa3a"/>
<path d="M348.41 260.21L350.01 263.25L346.81 263.25Z" fill="#58aa3a"/>
<path d="M351.02 259.70L352.62 262.74L349.42 262.74Z" fill="#58aa3a"/>
<path d="M352.95 259.56L354.55 262.60L351.35 262.60Z" fill="#58aa3a"/>
<path d="M355.76 260.04L357.36 263.08L354.16 263.08Z" fill="#58aa3a"/>
<path d="M357.92 259.71L359.52 262.75L356.32 262.75Z" fill="#58aa3a"/>
<path d="M321.06 262.89L322.66 265.93L319.46 265.93Z" fill="#58aa3a"/>
<path d="M324.14 262.32L325.74 265.36L322.54 265.36Z" fill="#58aa3a"/>
<path d="M326.36 262.42L327.96 265.46L324.76 265.46Z" fill="#58aa3a"/>
<path d="M328.36 262.66L329.96 265.70L326.76 265.70Z" fill="#58aa3a"/>
<path d="M333.66 262.70L335.26 265.74L332.06 265.74Z" fill="#58aa3a"/>
<path d="M335.88 262.18L337.48 265.22L334.28 265.22Z" fill="#58aa3a"/>
<path d="M338.16 262.83L339.76 265.87L336.56 265.87Z" fill="#58aa3a"/>
<path d="M341.23 262.80L342.83 265.84L339.63 265.84Z" fill="#58aa3a"/>
<path d="M343.41 262.57L345.01 265.61L341.81 265.61Z" fill="#58aa3a"/>
<path d="M346.38 262.75L347.98 265.79L344.78 265.79Z" fill="#58aa3a"/>
<path d="M348.77 262.70L350.37 265.74L347.17 265.74Z" fill="#58aa3a"/>
<path d="M351.13 262.40L352.73 265.44L349.53 265.44Z" fill="#58aa3a"/>
<path d="M358.44 262.72L360.04 265.76L356.84 265.76Z" fill="#58aa3a"/>
<path d="M360.85 262.09L362.45 265.13L359.25 265.13Z" fill="#58aa3a"/>
<path d="M363.07 262.04L364.67 265.08L361.47 265.08Z" fill="#58aa3a"/>
<path d="M365.67 262.59L367.27 265.63L364.07 265.63Z" fill="#58aa3a"/>
<path d="M319.40 265.13L321.00 268.17L317.80 268.17Z" fill="#58aa3a"/>
<path d="M321.59 265.04L323.19 268.08L319.99 268.08Z" fill="#58aa3a"/>
<path d="M323.80 265.43L325.40 268.47L322.20 268.47Z" fill="#58aa3a"/>
<path d="M326.53 265.22L328.13 268.26L324.93 268.26Z" fill="#58aa3a"/>
<path d="M331.35 265.19L332.95 268.23L329.75 268.23Z" fill="#58aa3a"/>
<path d="M333.61 264.58L335.21 267.62L332.01 267.62Z" fill="#58aa3a"/>
<path d="M336.04 264.62L337.64 267.66L334.44 267.66Z" fill="#58aa3a"/>
<path d="M338.97 265.03L340.57 268.07L337.37 268.07Z" fill="#58aa3a"/>
<path d="M341.47 265.04L343.07 268.08L339.87 268.08Z" fill="#58aa3a"/>
<path d="M346.23 264.60L347.83 267.64L344.63 267.64Z" fill="#58aa3a"/>
<path d="M348.63 264.57L350.23 267.61L347.03 267.61Z" fill="#58aa3a"/>
<path d="M353.27 264.68L354.87 267.72L351.67 267.72Z" fill="#58aa3a"/>
<path d="M355.85 264.58L357.45 267.62L354.25 267.62Z" fill="#58aa3a"/>
<path d="M360.67 265.07L362.27 268.11L359.07 268.11Z" fill="#58aa3a"/>
<path d="M362.91 265.12L364.51 268.16L361.31 268.16Z" fill="#58aa3a"/>
<path d="M365.36 265.17L366.96 268.21L363.76 268.21Z" fill="#58aa3a"/>
<path d="M367.56 264.75L369.16 267.79L365.96 267.79Z" fill="#58aa3a"/>
<path d="M316.24 267.71L317.84 270.75L314.64 270.75Z" fill="#58aa3a"/>
<path d="M319.36 267.70L320.96 270.74L317.76 270.74Z" fill="#58aa3a"/>
<path d="M321.89 267.88L323.49 270.92L320.29 270.92Z" fill="#58aa3a"/>
<path d="M324.26 267.42L325.86 270.46L322.66 270.46Z" fill="#58aa3a"/>
<path d="M326.78 267.25L328.38 270.29L325.18 270.29Z" fill="#58aa3a"/>
<path d="M329.19 267.68L330.79 270.72L327.59 270.72Z" fill="#58aa3a"/>
<path d="M331.68 267.77L333.28 270.81L330.08 270.81Z" fill="#58aa3a"/>
<path d="M333.35 267.59L334.95 270.63L331.75 270.63Z" fill="#58aa3a"/>
<path d="M335.88 267.08L337.48 270.12L334.28 270.12Z" fill="#58aa3a"/>
<path d="M338.26 267.43L339.86 270.47L336.66 270.47Z" fill="#58aa3a"/>
<path d="M341.01 267.27L342.61 270.31L339.41 270.31Z" fill="#58aa3a"/>
<path d="M343.43 267.73L345.03 270.77L341.83 270.77Z" fill="#58aa3a"/>
<path d="M346.40 267.89L348.00 270.93L344.80 270.93Z" fill="#58aa3a"/>
<path d="M348.16 267.13L349.76 270.17L346.56 270.17Z" fill="#58aa3a"/>
<path d="M353.41 267.35L355.01 270.39L351.81 270.39Z" fill="#58aa3a"/>
<path d="M355.92 267.54L357.52 270.58L354.32 270.58Z" fill="#58aa3a"/>
<path d="M358.32 267.71L359.92 270.75L356.72 270.75Z" fill="#58aa3a"/>
<path d="M360.42 267.91L362.02 270.95L358.82 270.95Z" fill="#58aa3a"/>
<path d="M367.60 267.27L369.20 270.31L366.00 270.31Z" fill="#58aa3a"/>
<path d="M316.66 269.62L318.26 272.66L315.06 272.66Z" fill="#58aa3a"/>
<path d="M318.62 269.61L320.22 272.65L317.02 272.65Z" fill="#58aa3a"/>
<path d="M324.02 269.87L325.62 272.91L322.42 272.91Z" fill="#58aa3a"/>
<path d="M326.09 269.84L327.69 272.88L324.49 272.88Z" fill="#58aa3a"/>
<path d="M329.10 269.60L330.70 272.64L327.50 272.64Z" fill="#58aa3a"/>
<path d="M331.53 270.09L333.13 273.13L329.93 273.13Z" fill="#58aa3a"/>
<path d="M333.44 269.91L335.04 272.95L331.84 272.95Z" fill="#58aa3a"/>
<path d="M336.43 269.86L338.03 272.90L334.83 272.90Z" fill="#58aa3a"/>
<path d="M339.04 269.82L340.64 272.86L337.44 272.86Z" fill="#58aa3a"/>
<path d="M341.27 270.36L342.87 273.40L339.67 273.40Z" fill="#58aa3a"/>
<path d="M343.38 269.62L344.98 272.66L341.78 272.66Z" fill="#58aa3a"/>
<path d="M348.02 270.04L349.62 273.08L346.42 273.08Z" fill="#58aa3a"/>
<path d="M351.02 269.80L352.62 272.84L349.42 272.84Z" fill="#58aa3a"/>
<path d="M352.92 269.72L354.52 272.76L351.32 272.76Z" fill="#58aa3a"/>
<path d="M355.37 269.80L356.97 272.84L353.77 272.84Z" fill="#58aa3a"/>
<path d="M358.37 269.78L359.97 272.82L356.77 272.82Z" fill="#58aa3a"/>
<path d="M360.52 270.18L362.12 273.22L358.92 273.22Z" fill="#58aa3a"/>
<path d="M362.76 270.17L364.36 273.21L361.16 273.21Z" fill="#58aa3a"/>
<path d="M365.93 270.38L367.53 273.42L364.33 273.42Z" fill="#58aa3a"/>
<path d="M370.72 269.80L372.32 272.84L369.12 272.84Z" fill="#58aa3a"/>
<path d="M316.46 272.87L318.06 275.91L314.86 275.91Z" fill="#58aa3a"/>
<path d="M321.33 272.36L322.93 275.40L319.73 275.40Z" fill="#58aa3a"/>
<path d="M323.81 272.38L325.41 275.42L322.21 275.42Z" fill="#58aa3a"/>
<path d="M326.41 272.75L328.01 275.79L324.81 275.79Z" fill="#58aa3a"/>
<path d="M329.10 272.54L330.70 275.58L327.50 275.58Z" fill="#58aa3a"/>
<path d="M331.48 272.82L333.08 275.86L329.88 275.86Z" fill="#58aa3a"/>
<path d="M333.27 272.49L334.87 275.53L331.67 275.53Z" fill="#58aa3a"/>
<path d="M336.21 272.90L337.81 275.94L334.61 275.94Z" fill="#58aa3a"/>
<path d="M338.87 272.09L340.47 275.13L337.27 275.13Z" fill="#58aa3a"/>
<path d="M341.31 272.11L342.91 275.15L339.71 275.15Z" fill="#58aa3a"/>
<path d="M343.71 272.84L345.31 275.88L342.11 275.88Z" fill="#58aa3a"/>
<path d="M346.07 272.16L347.67 275.20L344.47 275.20Z" fill="#58aa3a"/>
<path d="M348.53 272.25L350.13 275.29L346.93 275.29Z" fill="#58aa3a"/>
<path d="M351.09 272.50L352.69 275.54L349.49 275.54Z" fill="#58aa3a"/>
<path d="M353.20 272.33L354.80 275.37L351.60 275.37Z" fill="#58aa3a"/>
<path d="M358.19 272.51L359.79 275.55L356.59 275.55Z" fill="#58aa3a"/>
<path d="M360.84 272.85L362.44 275.89L359.24 275.89Z" fill="#58aa3a"/>
<path d="M363.39 272.63L364.99 275.67L361.79 275.67Z" fill="#58aa3a"/>
<path d="M323.92 275.17L325.52 278.21L322.32 278.21Z" fill="#58aa3a"/>
<path d="M328.73 274.66L330.33 277.70L327.13 277.70Z" fill="#58aa3a"/>
<path d="M331.69 274.87L333.29 277.91L330.09 277.91Z" fill="#58aa3a"/>
<path d="M333.43 274.91L335.03 277.95L331.83 277.95Z" fill="#58aa3a"/>
<path d="M336.57 274.58L338.17 277.62L334.97 277.62Z" fill="#58aa3a"/>
<path d="M338.25 275.11L339.85 278.15L336.65 278.15Z" fill="#58aa3a"/>
<path d="M340.76 274.59L342.36 277.63L339.16 277.63Z" fill="#58aa3a"/>
<path d="M343.58 275.35L345.18 278.39L341.98 278.39Z" fill="#58aa3a"/>
<path d="M345.60 274.70L347.20 277.74L344.00 277.74Z" fill="#58aa3a"/>
<path d="M348.16 275.18L349.76 278.22L346.56 278.22Z" fill="#58aa3a"/>
<path d="M350.60 274.70L352.20 277.74L349.00 277.74Z" fill="#58aa3a"/>
<path d="M353.01 275.21L354.61 278.25L351.41 278.25Z" fill="#58aa3a"/>
<path d="M355.79 275.27L357.39 278.31L354.19 278.31Z" fill="#58aa3a"/>
<path d="M357.98 275.33L359.58 278.37L356.38 278.37Z" fill="#58aa3a"/>
<path d="M363.14 275.39L364.74 278.43L361.54 278.43Z" fill="#58aa3a"/>
<path d="M365.30 274.57L366.90 277.61L363.70 277.61Z" fill="#58aa3a"/>
<path d="M321.47 277.49L323.07 280.53L319.87 280.53Z" fill="#58aa3a"/>
<path d="M324.34 277.62L325.94 280.66L322.74 280.66Z" fill="#58aa3a"/>
<path d="M325.91 277.46L327.51 280.50L324.31 280.50Z" fill="#58aa3a"/>
<path d="M329.07 277.67L330.67 280.71L327.47 280.71Z" fill="#58aa3a"/>
<path d="M330.94 277.17L332.54 280.21L329.34 280.21Z" fill="#58aa3a"/>
<path d="M333.48 277.81L335.08 280.85L331.88 280.85Z" fill="#58aa3a"/>
<path d="M336.27 277.92L337.87 280.96L334.67 280.96Z" fill="#58aa3a"/>
<path d="M338.63 277.17L340.23 280.21L337.03 280.21Z" fill="#58aa3a"/>
<path d="M340.60 277.77L342.20 280.81L339.00 280.81Z" fill="#58aa3a"/>
<path d="M345.57 277.27L347.17 280.31L343.97 280.31Z" fill="#58aa3a"/>
<path d="M348.04 277.46L349.64 280.50L346.44 280.50Z" fill="#58aa3a"/>
<path d="M351.26 277.56L352.86 280.60L349.66 280.60Z" fill="#58aa3a"/>
<path d="M356.01 277.41L357.61 280.45L354.41 280.45Z" fill="#58aa3a"/>
<path d="M360.94 277.22L362.54 280.26L359.34 280.26Z" fill="#58aa3a"/>
<path d="M363.12 277.17L364.72 280.21L361.52 280.21Z" fill="#58aa3a"/>
<path d="M321.28 279.60L322.88 282.64L319.68 282.64Z" fill="#58aa3a"/>
<path d="M323.87 280.17L325.47 283.21L322.27 283.21Z" fill="#58aa3a"/>
<path d="M326.52 279.63L328.12 282.67L324.92 282.67Z" fill="#58aa3a"/>
<path d="M328.77 280.40L330.37 283.44L327.17 283.44Z" fill="#58aa3a"/>
<path d="M333.26 279.87L334.86 282.91L331.66 282.91Z" fill="#58aa3a"/>
<path d="M335.91 280.04L337.51 283.08L334.31 283.08Z" fill="#58aa3a"/>
<path d="M338.16 280.42L339.76 283.46L336.56 283.46Z" fill="#58aa3a"/>
<path d="M340.79 280.08L342.39 283.12L339.19 283.12Z" fill="#58aa3a"/>
<path d="M343.39 280.02L344.99 283.06L341.79 283.06Z" fill="#58aa3a"/>
<path d="M345.80 279.88L347.40 282.92L344.20 282.92Z" fill="#58aa3a"/>
<path d="M348.18 279.71L349.78 282.75L346.58 282.75Z" fill="#58aa3a"/>
<path d="M350.70 280.38L352.30 283.42L349.10 283.42Z" fill="#58aa3a"/>
<path d="M353.50 279.83L355.10 282.87L351.90 282.87Z" fill="#58aa3a"/>
<path d="M357.88 279.61L359.48 282.65L356.28 282.65Z" fill="#58aa3a"/>
<path d="M360.84 279.69L362.44 282.73L359.24 282.73Z" fill="#58aa3a"/>
<path d="M363.40 280.06L365.00 283.10L361.80 283.10Z" fill="#58aa3a"/>
<path d="M365.30 279.67L366.90 282.71L363.70 282.71Z" fill="#58aa3a"/>
<path d="M321.37 282.10L322.97 285.14L319.77 285.14Z" fill="#58aa3a"/>
<path d="M326.36 282.61L327.96 285.65L324.76 285.65Z" fill="#58aa3a"/>
<path d="M333.55 282.40L335.15 285.44L331.95 285.44Z" fill="#58aa3a"/>
<path d="M336.06 282.66L337.66 285.70L334.46 285.70Z" fill="#58aa3a"/>
<path d="M341.19 282.58L342.79 285.62L339.59 285.62Z" fill="#58aa3a"/>
<path d="M343.35 282.34L344.95 285.38L341.75 285.38Z" fill="#58aa3a"/>
<path d="M345.60 282.37L347.20 285.41L344.00 285.41Z" fill="#58aa3a"/>
<path d="M348.66 282.77L350.26 285.81L347.06 285.81Z" fill="#58aa3a"/>
<path d="M350.54 282.72L352.14 285.76L348.94 285.76Z" fill="#58aa3a"/>
<path d="M355.62 282.48L357.22 285.52L354.02 285.52Z" fill="#58aa3a"/>
<path d="M358.39 282.92L359.99 285.96L356.79 285.96Z" fill="#58aa3a"/>
<path d="M360.84 282.78L362.44 285.82L359.24 285.82Z" fill="#58aa3a"/>
<path d="M363.50 282.59L365.10 285.63L361.90 285.63Z" fill="#58aa3a"/>
<path d="M365.17 282.25L366.77 285.29L363.57 285.29Z" fill="#58aa3a"/>
<path d="M321.63 284.83L323.23 287.87L320.03 287.87Z" fill="#58aa3a"/>
<path d="M326.32 284.64L327.92 287.68L324.72 287.68Z" fill="#58aa3a"/>
<path d="M331.61 285.02L333.21 288.06L330.01 288.06Z" fill="#58aa3a"/>
<path d="M333.75 284.77L335.35 287.81L332.15 287.81Z" fill="#58aa3a"/>
<path d="M341.14 284.64L342.74 287.68L339.54 287.68Z" fill="#58aa3a"/>
<path d="M343.31 285.34L344.91 288.38L341.71 288.38Z" fill="#58aa3a"/>
<path d="M346.02 285.28L347.62 288.32L344.42 288.32Z" fill="#58aa3a"/>
<path d="M348.44 284.60L350.04 287.64L346.84 287.64Z" fill="#58aa3a"/>
<path d="M350.56 285.42L352.16 288.46L348.96 288.46Z" fill="#58aa3a"/>
<path d="M355.58 285.13L357.18 288.17L353.98 288.17Z" fill="#58aa3a"/>
<path d="M360.73 285.25L362.33 288.29L359.13 288.29Z" fill="#58aa3a"/>
<path d="M362.83 284.95L364.43 287.99L361.23 287.99Z" fill="#58aa3a"/>
<path d="M321.35 287.54L322.95 290.58L319.75 290.58Z" fill="#58aa3a"/>
<path d="M323.92 287.27L325.52 290.31L322.32 290.31Z" fill="#58aa3a"/>
<path d="M326.20 287.61L327.80 290.65L324.60 290.65Z" fill="#58aa3a"/>
<path d="M328.95 287.16L330.55 290.20L327.35 290.20Z" fill="#58aa3a"/>
<path d="M333.67 287.40L335.27 290.44L332.07 290.44Z" fill="#58aa3a"/>
<path d="M336.32 287.71L337.92 290.75L334.72 290.75Z" fill="#58aa3a"/>
<path d="M338.59 287.93L340.19 290.97L336.99 290.97Z" fill="#58aa3a"/>
<path d="M341.37 287.40L342.97 290.44L339.77 290.44Z" fill="#58aa3a"/>
<path d="M343.56 287.84L345.16 290.88L341.96 290.88Z" fill="#58aa3a"/>
<path d="M345.97 287.42L347.57 290.46L344.37 290.46Z" fill="#58aa3a"/>
<path d="M350.45 287.68L352.05 290.72L348.85 290.72Z" fill="#58aa3a"/>
<path d="M355.84 287.71L357.44 290.75L354.24 290.75Z" fill="#58aa3a"/>
<path d="M358.28 287.09L359.88 290.13L356.68 290.13Z" fill="#58aa3a"/>
<path d="M360.60 287.48L362.20 290.52L359.00 290.52Z" fill="#58aa3a"/>
<path d="M362.70 287.66L364.30 290.70L361.10 290.70Z" fill="#58aa3a"/>
<path d="M323.67 289.81L325.27 292.85L322.07 292.85Z" fill="#58aa3a"/>
<path d="M326.11 289.59L327.71 292.63L324.51 292.63Z" fill="#58aa3a"/>
<path d="M334.03 289.91L335.63 292.95L332.43 292.95Z" fill="#58aa3a"/>
<path d="M338.82 290.04L340.42 293.08L337.22 293.08Z" fill="#58aa3a"/>
<path d="M343.76 289.64L345.36 292.68L342.16 292.68Z" fill="#58aa3a"/>
<path d="M346.36 289.53L347.96 292.57L344.76 292.57Z" fill="#58aa3a"/>
<path d="M348.22 289.82L349.82 292.86L346.62 292.86Z" fill="#58aa3a"/>
<path d="M351.21 290.26L352.81 293.30L349.61 293.30Z" fill="#58aa3a"/>
<path d="M353.17 290.06L354.77 293.10L351.57 293.10Z" fill="#58aa3a"/>
<path d="M355.33 290.34L356.93 293.38L353.73 293.38Z" fill="#58aa3a"/>
<path d="M358.20 290.37L359.80 293.41L356.60 293.41Z" fill="#58aa3a"/>
<path d="M330.99 292.30L332.59 295.34L329.39 295.34Z" fill="#58aa3a"/>
<path d="M338.90 292.35L340.50 295.39L337.30 295.39Z" fill="#58aa3a"/>
<path d="M340.75 292.82L342.35 295.86L339.15 295.86Z" fill="#58aa3a"/>
<path d="M346.07 292.20L347.67 295.24L344.47 295.24Z" fill="#58aa3a"/>
<path d="M350.50 292.68L352.10 295.72L348.90 295.72Z" fill="#58aa3a"/>
<path d="M353.66 292.81L355.26 295.85L352.06 295.85Z" fill="#58aa3a"/>
<path d="M358.38 292.87L359.98 295.91L356.78 295.91Z" fill="#58aa3a"/>
<path d="M335.77 294.73L337.37 297.77L334.17 297.77Z" fill="#58aa3a"/>
<path d="M338.79 294.71L340.39 297.75L337.19 297.75Z" fill="#58aa3a"/>
<path d="M340.81 295.13L342.41 298.17L339.21 298.17Z" fill="#58aa3a"/>
<path d="M343.39 295.13L344.99 298.17L341.79 298.17Z" fill="#58aa3a"/>
<path d="M348.16 294.80L349.76 297.84L346.56 297.84Z" fill="#58aa3a"/>
<path d="M440.05 103.89L442.95 103.89L441.50 106.51Z" fill="#3e105c"/>
<path d="M440.05 143.50L442.95 143.50L441.50 146.11Z" fill="#3e105c"/>
<path d="M439.95 169.40L442.85 169.40L441.40 172.01Z" fill="#3e105c"/>
<path d="M439.95 178.59L442.85 178.59L441.40 181.21Z" fill="#3e105c"/>
<path d="M439.95 181.50L442.85 181.50L441.40 184.11Z" fill="#3e105c"/>
<path d="M444.35 184.29L447.25 184.29L445.80 186.91Z" fill="#3e105c"/>
<path d="M439.95 186.40L442.85 186.40L441.40 189.01Z" fill="#3e105c"/>
<path d="M439.95 189.50L442.85 189.50L441.40 192.11Z" fill="#3e105c"/>
<path d="M444.35 188.50L447.25 188.50L445.80 191.11Z" fill="#3e105c"/>
<path d="M437.35 201.09L440.25 201.09L438.80 203.71Z" fill="#3e105c"/>
<path d="M442.25 201.90L445.15 201.90L443.70 204.51Z" fill="#3e105c"/>
<path d="M439.95 213.19L442.85 213.19L441.40 215.81Z" fill="#3e105c"/>
<path d="M439.95 217.09L442.85 217.09L441.40 219.71Z" fill="#3e105c"/>
<path d="M439.95 220.09L442.85 220.09L441.40 222.71Z" fill="#3e105c"/>
<path d="M430.85 224.79L433.75 224.79L432.30 227.41Z" fill="#3e105c"/>
<path d="M435.35 224.40L438.25 224.40L436.80 227.01Z" fill="#3e105c"/>
<path d="M439.95 224.40L442.85 224.40L441.40 227.01Z" fill="#3e105c"/>
<path d="M444.35 222.69L447.25 222.69L445.80 225.31Z" fill="#3e105c"/>
<path d="M449.15 223.50L452.05 223.50L450.60 226.11Z" fill="#3e105c"/>
<path d="M417.55 227.90L420.45 227.90L419.00 230.51Z" fill="#3e105c"/>
<path d="M435.35 228.69L438.25 228.69L436.80 231.31Z" fill="#3e105c"/>
<path d="M417.55 232.19L420.45 232.19L419.00 234.81Z" fill="#3e105c"/>
<path d="M421.85 232.19L424.75 232.19L423.30 234.81Z" fill="#3e105c"/>
<path d="M426.55 232.19L429.45 232.19L428.00 234.81Z" fill="#3e105c"/>
<path d="M435.35 233.09L438.25 233.09L436.80 235.71Z" fill="#3e105c"/>
<path d="M439.95 231.00L442.85 231.00L441.40 233.61Z" fill="#3e105c"/>
<path d="M439.95 234.79L442.85 234.79L441.40 237.41Z" fill="#3e105c"/>
<path d="M444.35 232.69L447.25 232.69L445.80 235.31Z" fill="#3e105c"/>
<path d="M449.15 232.69L452.05 232.69L450.60 235.31Z" fill="#3e105c"/>
<path d="M452.95 231.69L455.85 231.69L454.40 234.31Z" fill="#3e105c"/>
<path d="M457.75 230.50L460.65 230.50L459.20 233.11Z" fill="#3e105c"/>
<path d="M461.95 232.69L464.85 232.69L463.40 235.31Z" fill="#3e105c"/>
<path d="M444.48 236.45L447.38 236.45L445.93 239.06Z" fill="#3e105c"/>
<path d="M457.80 235.89L460.70 235.89L459.25 238.50Z" fill="#3e105c"/>
<path d="M426.67 238.92L429.57 238.92L428.12 241.53Z" fill="#3e105c"/>
<path d="M440.11 238.81L443.01 238.81L441.56 241.42Z" fill="#3e105c"/>
<path d="M448.83 239.39L451.73 239.39L450.28 242.00Z" fill="#3e105c"/>
<path d="M453.31 239.48L456.21 239.48L454.76 242.09Z" fill="#3e105c"/>
<path d="M417.94 242.13L420.84 242.13L419.39 244.74Z" fill="#3e105c"/>
<path d="M426.82 242.25L429.72 242.25L428.27 244.86Z" fill="#3e105c"/>
<path d="M440.02 241.83L442.92 241.83L441.47 244.44Z" fill="#3e105c"/>
<path d="M444.40 241.94L447.30 241.94L445.85 244.55Z" fill="#3e105c"/>
<path d="M453.41 241.97L456.31 241.97L454.86 244.58Z" fill="#3e105c"/>
<path d="M457.87 242.08L460.77 242.08L459.32 244.69Z" fill="#3e105c"/>
<path d="M431.27 244.71L434.17 244.71L432.72 247.32Z" fill="#3e105c"/>
<path d="M444.55 244.99L447.45 244.99L446.00 247.60Z" fill="#3e105c"/>
<path d="M453.28 244.84L456.18 244.84L454.73 247.45Z" fill="#3e105c"/>
<path d="M417.90 248.44L420.80 248.44L419.35 251.05Z" fill="#3e105c"/>
<path d="M426.70 248.11L429.60 248.11L428.15 250.72Z" fill="#3e105c"/>
<path d="M435.66 248.33L438.56 248.33L437.11 250.94Z" fill="#3e105c"/>
<path d="M444.58 247.77L447.48 247.77L446.03 250.38Z" fill="#3e105c"/>
<path d="M448.95 248.43L451.85 248.43L450.40 251.04Z" fill="#3e105c"/>
<path d="M453.45 248.13L456.35 248.13L454.90 250.74Z" fill="#3e105c"/>
<path d="M457.77 247.84L460.67 247.84L459.22 250.45Z" fill="#3e105c"/>
<path d="M462.18 248.25L465.08 248.25L463.63 250.86Z" fill="#3e105c"/>
<path d="M422.20 251.48L425.10 251.48L423.65 254.09Z" fill="#3e105c"/>
<path d="M431.12 251.17L434.02 251.17L432.57 253.78Z" fill="#3e105c"/>
<path d="M440.03 250.74L442.93 250.74L441.48 253.35Z" fill="#3e105c"/>
<path d="M448.93 251.37L451.83 251.37L450.38 253.98Z" fill="#3e105c"/>
<path d="M453.42 251.45L456.32 251.45L454.87 254.06Z" fill="#3e105c"/>
<path d="M417.84 253.81L420.74 253.81L419.29 256.42Z" fill="#3e105c"/>
<path d="M426.72 254.49L429.62 254.49L428.17 257.10Z" fill="#3e105c"/>
<path d="M440.05 254.28L442.95 254.28L441.50 256.89Z" fill="#3e105c"/>
<path d="M444.45 254.02L447.35 254.02L445.90 256.63Z" fill="#3e105c"/>
<path d="M448.91 254.49L451.81 254.49L450.36 257.10Z" fill="#3e105c"/>
<path d="M417.77 256.91L420.67 256.91L419.22 259.52Z" fill="#3e105c"/>
<path d="M431.23 257.31L434.13 257.31L432.68 259.92Z" fill="#3e105c"/>
<path d="M435.64 257.30L438.54 257.30L437.09 259.91Z" fill="#3e105c"/>
<path d="M440.09 256.92L442.99 256.92L441.54 259.53Z" fill="#3e105c"/>
<path d="M444.54 257.25L447.44 257.25L445.99 259.86Z" fill="#3e105c"/>
<path d="M449.02 257.21L451.92 257.21L450.47 259.82Z" fill="#3e105c"/>
<path d="M457.82 256.90L460.72 256.90L459.27 259.51Z" fill="#3e105c"/>
<path d="M431.20 260.29L434.10 260.29L432.65 262.90Z" fill="#3e105c"/>
<path d="M440.12 260.39L443.02 260.39L441.57 263.00Z" fill="#3e105c"/>
<path d="M444.59 260.46L447.49 260.46L446.04 263.07Z" fill="#3e105c"/>
<path d="M448.94 259.83L451.84 259.83L450.39 262.44Z" fill="#3e105c"/>
<path d="M431.23 263.16L434.13 263.16L432.68 265.77Z" fill="#3e105c"/>
<path d="M435.59 263.19L438.49 263.19L437.04 265.80Z" fill="#3e105c"/>
<path d="M444.53 262.72L447.43 262.72L445.98 265.33Z" fill="#3e105c"/>
<path d="M448.92 263.22L451.82 263.22L450.37 265.83Z" fill="#3e105c"/>
<path d="M453.41 263.20L456.31 263.20L454.86 265.81Z" fill="#3e105c"/>
<path d="M457.80 262.88L460.70 262.88L459.25 265.49Z" fill="#3e105c"/>
<path d="M462.18 262.95L465.08 262.95L463.63 265.56Z" fill="#3e105c"/>
<path d="M417.79 265.72L420.69 265.72L419.24 268.33Z" fill="#3e105c"/>
<path d="M422.27 266.18L425.17 266.18L423.72 268.79Z" fill="#3e105c"/>
<path d="M431.25 265.70L434.15 265.70L432.70 268.31Z" fill="#3e105c"/>
<path d="M435.57 266.02L438.47 266.02L437.02 268.63Z" fill="#3e105c"/>
<path d="M440.12 265.99L443.02 265.99L441.57 268.60Z" fill="#3e105c"/>
<path d="M444.51 265.77L447.41 265.77L445.96 268.38Z" fill="#3e105c"/>
<path d="M448.90 266.16L451.80 266.16L450.35 268.77Z" fill="#3e105c"/>
<path d="M426.66 269.17L429.56 269.17L428.11 271.78Z" fill="#3e105c"/>
<path d="M431.26 269.47L434.16 269.47L432.71 272.08Z" fill="#3e105c"/>
<path d="M435.58 269.41L438.48 269.41L437.03 272.02Z" fill="#3e105c"/>
<path d="M439.97 269.15L442.87 269.15L441.42 271.76Z" fill="#3e105c"/>
<path d="M444.42 269.20L447.32 269.20L445.87 271.81Z" fill="#3e105c"/>
<path d="M453.36 268.88L456.26 268.88L454.81 271.49Z" fill="#3e105c"/>
<path d="M457.90 269.00L460.80 269.00L459.35 271.61Z" fill="#3e105c"/>
<path d="M426.83 272.09L429.73 272.09L428.28 274.70Z" fill="#3e105c"/>
<path d="M431.13 272.48L434.03 272.48L432.58 275.09Z" fill="#3e105c"/>
<path d="M435.57 272.08L438.47 272.08L437.02 274.69Z" fill="#3e105c"/>
<path d="M440.07 272.05L442.97 272.05L441.52 274.66Z" fill="#3e105c"/>
<path d="M444.55 272.36L447.45 272.36L446.00 274.97Z" fill="#3e105c"/>
<path d="M448.94 271.91L451.84 271.91L450.39 274.52Z" fill="#3e105c"/>
<path d="M462.20 271.82L465.10 271.82L463.65 274.43Z" fill="#3e105c"/>
<path d="M422.31 275.07L425.21 275.07L423.76 277.68Z" fill="#3e105c"/>
<path d="M431.22 274.79L434.12 274.79L432.67 277.40Z" fill="#3e105c"/>
<path d="M440.06 274.96L442.96 274.96L441.51 277.57Z" fill="#3e105c"/>
<path d="M444.50 275.07L447.40 275.07L445.95 277.68Z" fill="#3e105c"/>
<path d="M448.98 275.17L451.88 275.17L450.43 277.78Z" fill="#3e105c"/>
<path d="M453.32 275.06L456.22 275.06L454.77 277.67Z" fill="#3e105c"/>
<path d="M422.35 278.04L425.25 278.04L423.80 280.65Z" fill="#3e105c"/>
<path d="M435.61 278.42L438.51 278.42L437.06 281.03Z" fill="#3e105c"/>
<path d="M440.03 278.38L442.93 278.38L441.48 280.99Z" fill="#3e105c"/>
<path d="M444.45 278.36L447.35 278.36L445.90 280.97Z" fill="#3e105c"/>
<path d="M449.00 278.25L451.90 278.25L450.45 280.86Z" fill="#3e105c"/>
<path d="M453.33 278.32L456.23 278.32L454.78 280.93Z" fill="#3e105c"/>
<path d="M417.85 281.13L420.75 281.13L419.30 283.74Z" fill="#3e105c"/>
<path d="M426.66 281.16L429.56 281.16L428.11 283.77Z" fill="#3e105c"/>
<path d="M435.56 281.35L438.46 281.35L437.01 283.96Z" fill="#3e105c"/>
<path d="M444.40 281.27L447.30 281.27L445.85 283.88Z" fill="#3e105c"/>
<path d="M417.92 283.87L420.82 283.87L419.37 286.48Z" fill="#3e105c"/>
<path d="M435.57 284.43L438.47 284.43L437.02 287.04Z" fill="#3e105c"/>
<path d="M440.07 284.03L442.97 284.03L441.52 286.64Z" fill="#3e105c"/>
<path d="M444.51 283.73L447.41 283.73L445.96 286.34Z" fill="#3e105c"/>
<path d="M448.91 283.75L451.81 283.75L450.36 286.36Z" fill="#3e105c"/>
<path d="M453.39 284.29L456.29 284.29L454.84 286.90Z" fill="#3e105c"/>
<path d="M417.84 286.95L420.74 286.95L419.29 289.56Z" fill="#3e105c"/>
<path d="M426.82 286.99L429.72 286.99L428.27 289.60Z" fill="#3e105c"/>
<path d="M431.21 286.82L434.11 286.82L432.66 289.43Z" fill="#3e105c"/>
<path d="M435.61 287.42L438.51 287.42L437.06 290.03Z" fill="#3e105c"/>
<path d="M440.07 286.91L442.97 286.91L441.52 289.52Z" fill="#3e105c"/>
<path d="M444.44 287.30L447.34 287.30L445.89 289.91Z" fill="#3e105c"/>
<path d="M448.86 286.88L451.76 286.88L450.31 289.49Z" fill="#3e105c"/>
<path d="M453.42 286.84L456.32 286.84L454.87 289.45Z" fill="#3e105c"/>
<path d="M426.76 289.77L429.66 289.77L428.21 292.38Z" fill="#3e105c"/>
<path d="M431.19 289.89L434.09 289.89L432.64 292.50Z" fill="#3e105c"/>
<path d="M440.01 290.33L442.91 290.33L441.46 292.94Z" fill="#3e105c"/>
<path d="M444.54 289.74L447.44 289.74L445.99 292.35Z" fill="#3e105c"/>
<path d="M449.02 290.24L451.92 290.24L450.47 292.85Z" fill="#3e105c"/>
<path d="M453.29 290.47L456.19 290.47L454.74 293.08Z" fill="#3e105c"/>
<path d="M431.19 292.98L434.09 292.98L432.64 295.59Z" fill="#3e105c"/>
<path d="M435.58 293.19L438.48 293.19L437.03 295.80Z" fill="#3e105c"/>
<path d="M440.03 292.80L442.93 292.80L441.48 295.41Z" fill="#3e105c"/>
<path d="M435.68 296.11L438.58 296.11L437.13 298.72Z" fill="#3e105c"/>
<path d="M440.06 296.29L442.96 296.29L441.51 298.90Z" fill="#3e105c"/>
<path d="M444.41 295.72L447.31 295.72L445.86 298.33Z" fill="#3e105c"/>
<path d="M448.84 296.41L451.74 296.41L450.29 299.02Z" fill="#3e105c"/>
<path d="M444.48 299.41L447.38 299.41L445.93 302.02Z" fill="#3e105c"/>
<path d="M440.04 302.07L442.94 302.07L441.49 304.68Z" fill="#3e105c"/>
<path d="M408.97 259.00L411.87 259.00L410.42 261.61Z" fill="#3e105c"/>
<path d="M413.41 259.00L416.31 259.00L414.86 261.61Z" fill="#3e105c"/>
<path d="M417.85 259.00L420.75 259.00L419.30 261.61Z" fill="#3e105c"/>
<path d="M422.29 259.00L425.19 259.00L423.74 261.61Z" fill="#3e105c"/>
<path d="M426.73 259.00L429.63 259.00L428.18 261.61Z" fill="#3e105c"/>
<path d="M431.17 259.00L434.07 259.00L432.62 261.61Z" fill="#3e105c"/>
<path d="M435.61 259.00L438.51 259.00L437.06 261.61Z" fill="#3e105c"/>
<path d="M440.05 259.00L442.95 259.00L441.50 261.61Z" fill="#3e105c"/>
<path d="M444.49 259.00L447.39 259.00L445.94 261.61Z" fill="#3e105c"/>
<path d="M448.93 259.00L451.83 259.00L450.38 261.61Z" fill="#3e105c"/>
<path d="M453.37 259.00L456.27 259.00L454.82 261.61Z" fill="#3e105c"/>
<path d="M457.81 259.00L460.71 259.00L459.26 261.61Z" fill="#3e105c"/>
<path d="M462.25 259.00L465.15 259.00L463.70 261.61Z" fill="#3e105c"/>
<path d="M466.69 259.00L469.59 259.00L468.14 261.61Z" fill="#3e105c"/>
<path d="M471.13 259.00L474.03 259.00L472.58 261.61Z" fill="#3e105c"/>
<line x1="90" y1="297.5" x2="495" y2="297.5" stroke="#9e0016" stroke-width="2"/>
<line x1="148" y1="254.4" x2="148" y2="286.6" stroke="#000" stroke-width="2"/>
<line x1="131.8" y1="254.4" x2="164.2" y2="254.4" stroke="#000" stroke-width="2"/>
<line x1="131.8" y1="286.6" x2="164.2" y2="286.6" stroke="#000" stroke-width="2"/>
<line x1="115.5" y1="275.6" x2="180.5" y2="275.6" stroke="#000" stroke-width="2"/>
<line x1="245.5" y1="259.7" x2="245.5" y2="287.7" stroke="#000" stroke-width="2"/>
<line x1="229.3" y1="259.7" x2="261.7" y2="259.7" stroke="#000" stroke-width="2"/>
<line x1="229.3" y1="287.7" x2="261.7" y2="287.7" stroke="#000" stroke-width="2"/>
<line x1="213.0" y1="274.8" x2="278.0" y2="274.8" stroke="#000" stroke-width="2"/>
<line x1="343.5" y1="251.8" x2="343.5" y2="281.1" stroke="#000" stroke-width="2"/>
<line x1="327.3" y1="251.8" x2="359.7" y2="251.8" stroke="#000" stroke-width="2"/>
<line x1="327.3" y1="281.1" x2="359.7" y2="281.1" stroke="#000" stroke-width="2"/>
<line x1="311.0" y1="268.2" x2="376.0" y2="268.2" stroke="#000" stroke-width="2"/>
<line x1="441.4" y1="240.7" x2="441.4" y2="277.6" stroke="#000" stroke-width="2"/>
<line x1="425.2" y1="240.7" x2="457.59999999999997" y2="240.7" stroke="#000" stroke-width="2"/>
<line x1="425.2" y1="277.6" x2="457.59999999999997" y2="277.6" stroke="#000" stroke-width="2"/>
<line x1="408.9" y1="261.6" x2="473.9" y2="261.6" stroke="#000" stroke-width="2"/>
<line x1="148" y1="49.8" x2="441" y2="49.8" stroke="#000" stroke-width="1.8"/>
<polygon points="294.50,39.10 295.21,40.82 297.07,40.97 295.66,42.18 296.09,43.98 294.50,43.02 292.91,43.98 293.34,42.18 291.93,40.97 293.79,40.82" fill="#000"/>
<line x1="245.5" y1="67.8" x2="441" y2="67.8" stroke="#000" stroke-width="1.8"/>
<polygon points="343.30,57.10 344.01,58.82 345.87,58.97 344.46,60.18 344.89,61.98 343.30,61.02 341.71,61.98 342.14,60.18 340.73,58.97 342.59,58.82" fill="#000"/>
<line x1="343.5" y1="85.7" x2="441" y2="85.7" stroke="#000" stroke-width="1.8"/>
<polygon points="392.20,75.00 392.91,76.72 394.77,76.87 393.36,78.08 393.79,79.88 392.20,78.92 390.61,79.88 391.04,78.08 389.63,76.87 391.49,76.72" fill="#000"/>
<line x1="245.5" y1="103.5" x2="343.5" y2="103.5" stroke="#000" stroke-width="1.8"/>
<polygon points="294.50,92.80 295.21,94.52 297.07,94.67 295.66,95.88 296.09,97.68 294.50,96.72 292.91,97.68 293.34,95.88 291.93,94.67 293.79,94.52" fill="#000"/>
</svg>
<div class="t n" style="right:448.0px;top:323.60px;text-align:right">0</div>
<div class="t n" style="right:448.0px;top:288.23px;text-align:right">50</div>
<div class="t n" style="right:448.0px;top:252.85px;text-align:right">100</div>
<div class="t n" style="right:448.0px;top:217.47px;text-align:right">150</div>
<div class="t n" style="right:448.0px;top:182.10px;text-align:right">200</div>
<div class="t n" style="right:448.0px;top:146.72px;text-align:right">250</div>
<div class="t n" style="right:448.0px;top:111.35px;text-align:right">300</div>
<div class="t n" style="right:448.0px;top:75.97px;text-align:right">350</div>
<div class="t n" style="right:448.0px;top:40.60px;text-align:right">400</div>
<div class="t n" style="left:86px;width:120px;top:344px;text-align:center">0-2</div>
<div class="t n" style="left:183.5px;width:120px;top:344px;text-align:center">3-6</div>
<div class="t n" style="left:281.5px;width:120px;top:344px;text-align:center">7-10</div>
<div class="t n" style="left:379.5px;width:120px;top:344px;text-align:center">11-18</div>
<div class="t top" style="left:85.4px;width:120px;top:14.100000000000001px;text-align:center">81</div>
<div class="t top" style="left:182.9px;width:120px;top:14.100000000000001px;text-align:center">82</div>
<div class="t top" style="left:280.9px;width:120px;top:14.100000000000001px;text-align:center">90</div>
<div class="t top" style="left:378.9px;width:120px;top:14.100000000000001px;text-align:center">100</div>
<div class="t ttl" style="left:256.9px;top:368.3px;transform:scaleX(0.70)">Age in years</div>
<div class="t ttl" style="left:13.4px;top:236px;transform:rotate(-90deg) scaleX(0.666)">VWF:Ag</div>
<div class="t ttl" style="left:13.4px;top:185.4px;transform:rotate(-90deg) scaleX(0.753)">in IU/dL</div>
</div></body></html>
